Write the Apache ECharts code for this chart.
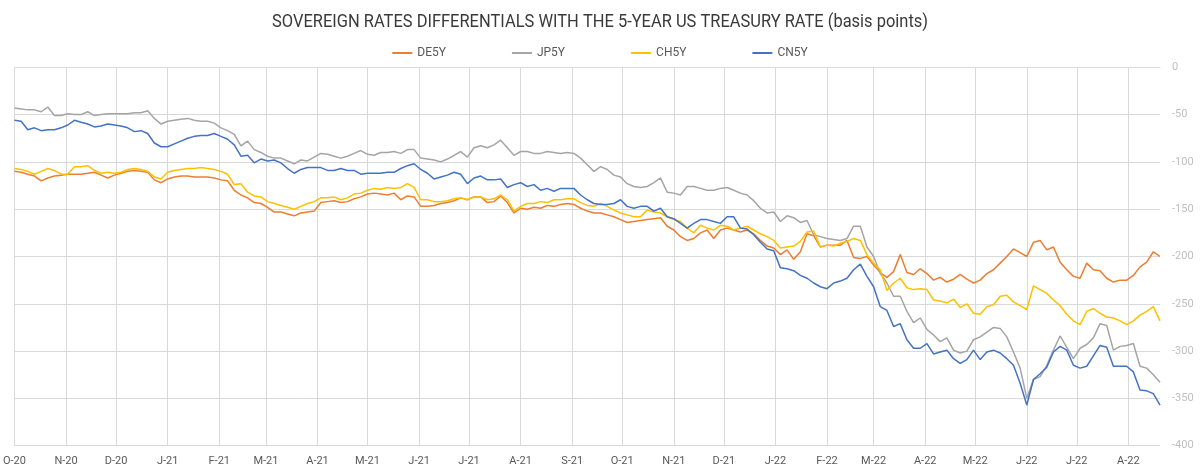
<!DOCTYPE html>
<html>
<head>
<meta charset="utf-8">
<script src="https://cdn.jsdelivr.net/npm/echarts@6/dist/echarts.min.js"></script>
<style>
  html, body { margin: 0; padding: 0; background: #fff; }
  #chart { width: 1200px; height: 472px; }
</style>
</head>
<body>
<div id="chart"></div>
<script>
// daily calendar axis, one reading every 4 days
const startDate = '2020-10-01';
const dayCount = 689;
const stepDays = 4;
const monthInitials = ['J', 'F', 'M', 'A', 'M', 'J', 'J', 'A', 'S', 'O', 'N', 'D'];
const yTicks = { min: -400, max: 0, interval: 50 };

const de5y = [
  -110, -111, -113, -115, -120, -117, -115, -114, -113, -113,
  -113, -112, -111, -114, -117, -114, -112, -110, -109, -110,
  -111, -119, -122, -118, -116, -115, -115, -116, -116, -116,
  -117, -119, -120, -130, -135, -138, -143, -144, -148, -153,
  -153, -155, -157, -154, -153, -152, -143, -142, -141, -143,
  -142, -139, -137, -134, -133, -134, -135, -133, -140, -136,
  -137, -147, -147, -146, -144, -143, -141, -138, -140, -137,
  -137, -143, -142, -136, -143, -154, -149, -150, -148, -149,
  -146, -147, -145, -144, -145, -149, -152, -154, -154, -156,
  -158, -161, -164, -163, -162, -161, -160, -159, -168, -172,
  -179, -183, -181, -175, -172, -181, -172, -170, -172, -174,
  -172, -176, -183, -189, -191, -198, -193, -203, -195, -176,
  -178, -190, -188, -188, -188, -183, -201, -202, -200, -209,
  -217, -222, -216, -198, -217, -219, -213, -218, -225, -222,
  -227, -224, -219, -224, -228, -225, -218, -214, -207, -200,
  -192, -196, -200, -185, -183, -193, -190, -206, -214, -221,
  -223, -207, -214, -215, -223, -227, -225, -225, -220, -211,
  -206, -195, -200
];

const jp5y = [
  -43, -44, -45, -45, -47, -42, -51, -51, -49, -50,
  -50, -47, -51, -50, -49, -49, -49, -49, -48, -48,
  -46, -54, -60, -57, -56, -55, -54, -56, -57, -57,
  -59, -64, -67, -71, -83, -78, -87, -90, -94, -96,
  -96, -99, -102, -98, -99, -95, -91, -92, -94, -96,
  -94, -91, -88, -92, -93, -90, -90, -89, -91, -87,
  -87, -96, -97, -98, -100, -97, -93, -89, -95, -85,
  -83, -85, -82, -77, -85, -93, -89, -89, -91, -91,
  -89, -90, -91, -90, -91, -96, -103, -110, -105, -108,
  -114, -116, -123, -126, -127, -126, -122, -117, -132, -133,
  -135, -126, -126, -128, -130, -130, -128, -127, -130, -133,
  -135, -141, -149, -154, -153, -163, -157, -159, -164, -162,
  -177, -179, -181, -182, -183, -181, -168, -168, -190, -200,
  -218, -228, -242, -242, -258, -270, -265, -277, -283, -290,
  -286, -299, -302, -300, -288, -285, -280, -275, -276, -285,
  -301, -318, -350, -330, -327, -315, -299, -284, -296, -308,
  -297, -293, -286, -271, -273, -299, -295, -294, -292, -316,
  -318, -325, -333
];

const ch5y = [
  -107, -108, -110, -113, -110, -107, -109, -113, -113, -105,
  -105, -104, -109, -112, -111, -112, -111, -108, -107, -108,
  -110, -116, -118, -111, -109, -108, -107, -107, -106, -107,
  -108, -110, -113, -124, -123, -132, -136, -137, -142, -144,
  -146, -148, -150, -147, -144, -142, -138, -138, -137, -140,
  -138, -134, -133, -130, -128, -129, -127, -128, -127, -123,
  -127, -140, -140, -142, -142, -141, -139, -138, -140, -137,
  -137, -140, -139, -135, -140, -152, -147, -144, -144, -142,
  -143, -140, -140, -139, -139, -143, -146, -147, -144, -147,
  -151, -154, -156, -158, -158, -151, -153, -154, -158, -161,
  -163, -170, -175, -167, -170, -172, -167, -168, -172, -170,
  -168, -172, -176, -179, -183, -191, -190, -189, -184, -174,
  -173, -190, -188, -189, -186, -184, -181, -183, -198, -207,
  -214, -236, -228, -223, -233, -235, -234, -235, -246, -247,
  -249, -245, -254, -250, -260, -261, -253, -251, -242, -241,
  -248, -252, -256, -231, -235, -239, -246, -252, -261, -268,
  -272, -258, -255, -260, -264, -265, -268, -272, -268, -262,
  -258, -253, -268
];

const cn5y = [
  -56, -57, -66, -64, -67, -66, -66, -64, -61, -56,
  -58, -60, -63, -62, -60, -61, -62, -64, -68, -67,
  -70, -80, -84, -84, -81, -78, -75, -73, -72, -72,
  -70, -73, -76, -82, -94, -93, -101, -97, -99, -98,
  -101, -107, -112, -108, -106, -106, -106, -109, -109, -107,
  -109, -109, -113, -112, -112, -112, -111, -111, -107, -104,
  -102, -108, -112, -118, -116, -114, -111, -113, -123, -117,
  -115, -119, -119, -118, -127, -124, -122, -126, -124, -130,
  -128, -131, -128, -128, -128, -135, -140, -144, -145, -145,
  -144, -140, -147, -149, -147, -147, -152, -149, -158, -160,
  -165, -170, -165, -161, -161, -163, -165, -158, -158, -170,
  -171, -177, -185, -192, -194, -212, -213, -215, -220, -223,
  -228, -232, -234, -228, -226, -223, -214, -208, -221, -232,
  -253, -257, -274, -271, -288, -297, -297, -292, -303, -301,
  -299, -308, -313, -309, -299, -309, -301, -299, -302, -308,
  -315, -334, -357, -330, -324, -317, -301, -295, -299, -315,
  -318, -316, -305, -294, -296, -316, -316, -316, -322, -341,
  -342, -345, -357
];

const seriesNames = ['DE5Y', 'JP5Y', 'CH5Y', 'CN5Y'];
const seriesValues = [de5y, jp5y, ch5y, cn5y];
const seriesColors = ['#ED7D31', '#A5A5A5', '#FFC000', '#4472C4'];
const titleText = 'SOVEREIGN RATES DIFFERENTIALS WITH THE 5-YEAR US TREASURY RATE (basis points)';

const days = [];
const t0 = new Date(startDate + 'T00:00:00Z').getTime();
for (let i = 0; i < dayCount; i++) {
  days.push(new Date(t0 + i * 86400000).toISOString().slice(0, 10));
}
const isMonthStart = idx => days[idx].slice(8) === '01';
const monthLabel = v => monthInitials[+v.slice(5, 7) - 1] + '-' + v.slice(2, 4);

const font = 'Roboto, sans-serif';
const gridColor = '#d9d9d9';

// the original title uses a condensed face: squeeze Roboto to the same width
const titleFont = '19px Roboto';
const ctx = document.createElement('canvas').getContext('2d');
ctx.font = titleFont;
const titleScale = 656 / ctx.measureText(titleText).width;

const myChart = echarts.init(document.getElementById('chart'));
myChart.setOption({
  animation: false,
  graphic: [{
    type: 'text',
    x: 600,
    y: 22,
    scaleX: titleScale,
    style: {
      text: titleText,
      font: titleFont,
      fill: '#3a3a3a',
      textAlign: 'center',
      textVerticalAlign: 'middle'
    }
  }],
  legend: {
    top: 42,
    left: 'center',
    itemGap: 66,
    itemWidth: 20,
    itemHeight: 2,
    icon: 'rect',
    textStyle: { fontFamily: font, fontSize: 12, color: '#595959' },
    data: seriesNames
  },
  grid: { left: 11.7, right: 40, top: 67.3, bottom: 26.3 },
  xAxis: {
    type: 'category',
    data: days,
    boundaryGap: false,
    axisLine: { lineStyle: { color: gridColor } },
    axisTick: { show: false },
    axisLabel: {
      interval: idx => isMonthStart(idx),
      formatter: monthLabel,
      color: '#595959',
      fontFamily: font,
      fontSize: 11,
      margin: 10
    },
    splitLine: { show: true, interval: idx => isMonthStart(idx), lineStyle: { color: gridColor } }
  },
  yAxis: {
    type: 'value',
    position: 'right',
    min: yTicks.min,
    max: yTicks.max,
    interval: yTicks.interval,
    axisLine: { show: false },
    axisTick: { show: false },
    axisLabel: { color: '#bfbfbf', fontFamily: font, fontSize: 11, margin: 12 },
    splitLine: { lineStyle: { color: gridColor } }
  },
  series: seriesNames.map((name, k) => ({
    name: name,
    type: 'line',
    showSymbol: false,
    color: seriesColors[k],
    lineStyle: { width: 1.5 },
    data: seriesValues[k].map((v, i) => [i * stepDays, v])
  }))
});
</script>
</body>
</html>
